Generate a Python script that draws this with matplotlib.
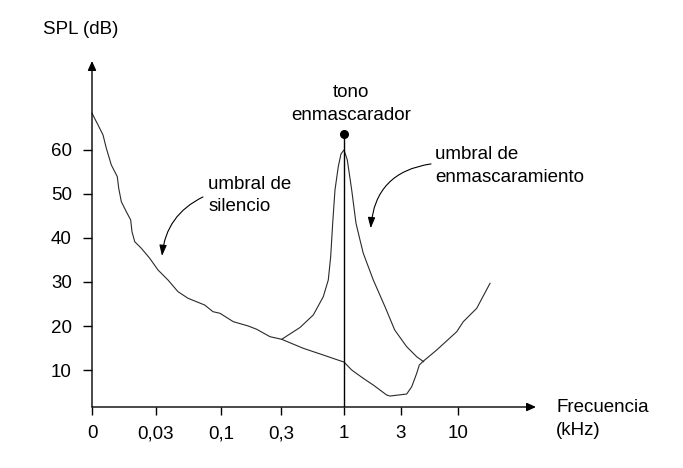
import matplotlib
matplotlib.use('Agg')
import numpy as np
import matplotlib.pyplot as plt
from matplotlib.ticker import FixedLocator, FixedFormatter, NullLocator

plt.rcParams['font.family'] = ['Liberation Sans', 'DejaVu Sans']

# Threshold in quiet (umbral de silencio): frequency (kHz), SPL (dB)
quiet_freq = [0.01, 0.01109, 0.01209, 0.0128, 0.01395, 0.01547, 0.01585, 0.01658,
              0.01806, 0.01949, 0.01993, 0.02089, 0.0234, 0.02705, 0.03129,
              0.03759, 0.04515, 0.05426, 0.07369, 0.08585, 0.09761, 0.1247,
              0.1643, 0.1919, 0.245, 0.304, 0.4595, 0.6731, 0.9262, 1.0, 1.16,
              1.45, 1.759, 2.277, 2.426, 3.385, 3.765, 4.187, 4.425, 4.756,
              6.403, 9.793, 11.26, 14.97, 19.86]
quiet_spl = [68.34, 65.68, 63.41, 60.39, 56.59, 53.93, 51.30, 48.25,
             45.98, 44.09, 41.43, 39.16, 37.66, 35.39, 32.73,
             30.45, 27.80, 26.30, 24.77, 23.25, 22.89, 20.98,
             20.0, 19.25, 17.57, 16.98, 14.93, 13.41, 12.11, 11.82, 10.0,
             8.11, 6.59, 4.32, 4.09, 4.55, 6.20, 9.25, 11.14, 11.89,
             14.55, 18.70, 20.98, 24.02, 29.70]

# Masking threshold (umbral de enmascaramiento)
mask_freq = [0.304, 0.4313, 0.556, 0.6731, 0.7405, 0.7754, 0.8055, 0.8418,
             0.8965, 0.944, 1.0, 1.0656, 1.16, 1.26, 1.361, 1.45, 1.759,
             2.203, 2.657, 3.385, 4.187, 4.848]
mask_spl = [16.98, 19.66, 22.5, 26.66, 30.45, 35.75, 43.34, 50.91,
            56.2, 59.09, 60.0, 57.73, 50.91, 43.34, 39.55, 36.52, 30.45,
            24.39, 19.09, 15.30, 13.02, 11.89]

# Masking tone
tone_freq = 1.0
tone_spl = 63.64

xtick_values = [0.01, 0.03, 0.1, 0.3, 1, 3, 10]
xtick_labels = ['0', '0,03', '0,1', '0,3', '1', '3', '10']
ytick_values = [10, 20, 30, 40, 50, 60]
ytick_labels = ['10', '20', '30', '40', '50', '60']

# Hand-drawn (non-uniform) logarithmic frequency axis: scale knots
KNOT_LOG = np.log10(np.array(xtick_values, dtype=float))
KNOT_U = np.array([92, 155.7, 221.3, 281, 344, 401, 457.7])
SLOPE_LO = (KNOT_U[1] - KNOT_U[0]) / (KNOT_LOG[1] - KNOT_LOG[0])
SLOPE_HI = (KNOT_U[-1] - KNOT_U[-2]) / (KNOT_LOG[-1] - KNOT_LOG[-2])


def fwd(f):
    f = np.asarray(f, dtype=float)
    lf = np.log10(np.clip(f, 1e-9, None))
    u = np.interp(lf, KNOT_LOG, KNOT_U)
    u = np.where(lf < KNOT_LOG[0], KNOT_U[0] + (lf - KNOT_LOG[0]) * SLOPE_LO, u)
    u = np.where(lf > KNOT_LOG[-1], KNOT_U[-1] + (lf - KNOT_LOG[-1]) * SLOPE_HI, u)
    return u


def inv(u):
    u = np.asarray(u, dtype=float)
    lf = np.interp(u, KNOT_U, KNOT_LOG)
    lf = np.where(u < KNOT_U[0], KNOT_LOG[0] + (u - KNOT_U[0]) / SLOPE_LO, lf)
    lf = np.where(u > KNOT_U[-1], KNOT_LOG[-1] + (u - KNOT_U[-1]) / SLOPE_HI, lf)
    return 10.0 ** lf


FS = 13.5
fig = plt.figure(figsize=(6.83, 4.68), dpi=100)
ax = fig.add_axes([92 / 683, 61 / 468, 444 / 683, 346 / 468])
ax.set_xscale('function', functions=(fwd, inv))
ax.set_xlim(inv(92.0), inv(536.0))
ax.set_ylim(1.6, 80.2)
for s in ax.spines.values():
    s.set_visible(False)

# axes with arrowheads
arrow_axis = dict(arrowstyle='-|>,head_length=0.55,head_width=0.25', lw=1.0,
                  color='black', shrinkA=0, shrinkB=0)
ax.annotate('', xy=(1, 0), xytext=(0, 0), xycoords='axes fraction',
            textcoords='axes fraction', arrowprops=arrow_axis, annotation_clip=False)
ax.annotate('', xy=(0, 1), xytext=(0, 0), xycoords='axes fraction',
            textcoords='axes fraction', arrowprops=arrow_axis, annotation_clip=False)

ax.xaxis.set_major_locator(FixedLocator(xtick_values))
ax.xaxis.set_major_formatter(FixedFormatter(xtick_labels))
ax.xaxis.set_minor_locator(NullLocator())
ax.yaxis.set_major_locator(FixedLocator(ytick_values))
ax.yaxis.set_major_formatter(FixedFormatter(ytick_labels))
ax.yaxis.set_minor_locator(NullLocator())
ax.tick_params(axis='x', direction='out', length=5.5, width=1.0, pad=7.5, labelsize=FS)
ax.tick_params(axis='y', direction='out', length=6.5, width=1.0, pad=8, labelsize=FS)

curve_color = '#2a2a2a'
ax.plot(quiet_freq, quiet_spl, color=curve_color, lw=0.8, clip_on=False)
ax.plot(mask_freq, mask_spl, color=curve_color, lw=0.8, clip_on=False)

# tone line and dot
ax.plot([tone_freq, tone_freq], [1.6, tone_spl], color='black', lw=1.0)
ax.plot([tone_freq], [tone_spl], 'o', color='black', ms=5.5)

# labels
ax.text(1.144, 74.9, 'tono\nenmascarador', ha='center', va='top', fontsize=FS,
        linespacing=1.4)
ax.text(0.0787, 54.0, 'umbral de\nsilencio', ha='left', va='top', fontsize=FS,
        linespacing=1.35)
ax.text(6.177, 60.8, 'umbral de\nenmascaramiento', ha='left', va='top', fontsize=FS,
        linespacing=1.4)

arrow_note = dict(arrowstyle='-|>,head_length=0.65,head_width=0.22', lw=0.8,
                  color='black', shrinkA=0, shrinkB=0)
ax.annotate('', xy=(0.03368, 35.91), xytext=(0.07145, 49.32),
            arrowprops=dict(arrow_note, connectionstyle='arc3,rad=0.28'))
ax.annotate('', xy=(1.673, 42.2), xytext=(5.675, 56.82),
            arrowprops=dict(arrow_note, connectionstyle='arc3,rad=0.4'))

fig.text(42.7 / 683, 1 - 21.0 / 468, 'SPL (dB)', ha='left', va='top', fontsize=FS)
fig.text(556 / 683, 1 - 399.5 / 468, 'Frecuencia\n(kHz)', ha='left', va='top',
         fontsize=FS, linespacing=1.4)

fig.savefig('out.png', dpi=100)
